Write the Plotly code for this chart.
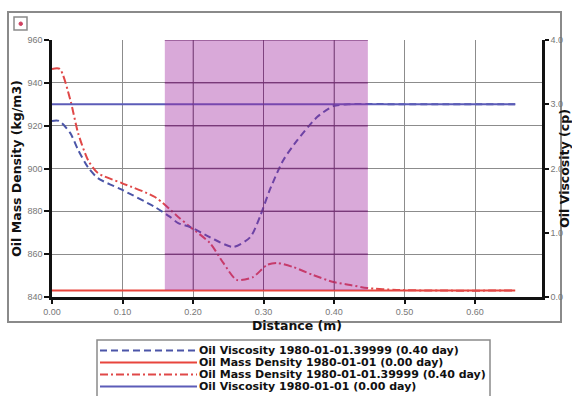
import plotly.graph_objects as go

# ---------------- data ----------------
x_visc_040 = [0.0, 0.01, 0.026, 0.037, 0.051, 0.065, 0.099, 0.146, 0.167, 0.179, 0.196, 0.224,
              0.257, 0.281, 0.295, 0.309, 0.328, 0.348, 0.376, 0.399, 0.423, 0.50, 0.657]
visc_040 = [2.74, 2.74, 2.55, 2.29, 2.02, 1.85, 1.67, 1.40, 1.25, 1.15, 1.09, 0.93,
            0.78, 0.93, 1.25, 1.67, 2.13, 2.44, 2.80, 2.97, 3.0, 3.0, 3.0]

x_dens_040 = [0.0, 0.011, 0.026, 0.037, 0.051, 0.065, 0.099, 0.146, 0.179, 0.196, 0.224, 0.243,
              0.262, 0.285, 0.305, 0.319, 0.342, 0.370, 0.399, 0.423, 0.447, 0.489, 0.55, 0.657]
dens_040 = [946.5, 946.5, 932.0, 916.6, 904.0, 897.9, 893.2, 886.7, 877.4, 872.7, 865.2, 855.9,
            848.0, 849.3, 855.0, 855.9, 854.0, 850.3, 847.0, 845.6, 844.2, 843.3, 843.0, 843.0]

x_flat = [0.0, 0.657]
dens_000 = [843.0, 843.0]
visc_000 = [3.0, 3.0]

x_ticks = [0.0, 0.1, 0.2, 0.3, 0.4, 0.5, 0.6]
x_tick_labels = ["0.00", "0.10", "0.20", "0.30", "0.40", "0.50", "0.60"]
left_ticks = [840, 860, 880, 900, 920, 940, 960]
right_ticks = [0.0, 1.0, 2.0, 3.0, 4.0]
right_tick_labels = ["0.0", "1.0", "2.0", "3.0", "4.0"]
shade_x = [0.160, 0.448]

names = ["Oil Viscosity 1980-01-01.39999 (0.40 day)",
         "Oil Mass Density 1980-01-01 (0.00 day)",
         "Oil Mass Density 1980-01-01.39999 (0.40 day)",
         "Oil Viscosity 1980-01-01 (0.00 day)"]

# ---------------- figure ----------------
W, H = 572, 396
L, R, T, B = 52, 542, 40, 297


def px(xp):
    return (xp - L) / (R - L)


def py(yp):
    return (B - yp) / (B - T)


series = [
    dict(x=x_visc_040, y=visc_040, yaxis="y2", color="#4b55a8", dash="7px,4px", name=names[0]),
    dict(x=x_flat, y=dens_000, yaxis="y", color="#e8453c", dash="solid", name=names[1]),
    dict(x=x_dens_040, y=dens_040, yaxis="y", color="#e04848", dash="8px,3px,2px,3px", name=names[2]),
    dict(x=x_flat, y=visc_000, yaxis="y2", color="#5c5cb8", dash="solid", name=names[3]),
]

fig = go.Figure()
for s in series:
    fig.add_trace(go.Scatter(
        x=s["x"], y=s["y"], yaxis=s["yaxis"], name=s["name"], mode="lines",
        line=dict(color=s["color"], width=2, dash=s["dash"], shape="spline", smoothing=0.7),
        showlegend=False, hoverinfo="skip"))

shapes = []
# shaded region: translucent overlay so curves show through
shade_bottom = py(290)
shapes.append(dict(type="rect", xref="x", yref="paper", x0=shade_x[0], x1=shade_x[1], y0=shade_bottom, y1=1,
                   fillcolor="rgba(160,40,160,0.4)", line=dict(width=0), layer="above"))
# grid lines seen through the shaded region
grid_in_shade = "rgba(110,40,110,0.55)"
for xv in x_ticks:
    if shade_x[0] < xv < shade_x[1]:
        shapes.append(dict(type="line", xref="x", yref="paper", x0=xv, x1=xv, y0=shade_bottom, y1=1,
                           line=dict(color=grid_in_shade, width=1), layer="above"))
for yv in left_ticks:
    if yv > 845:
        shapes.append(dict(type="line", xref="x", yref="y", x0=shade_x[0], x1=shade_x[1], y0=yv, y1=yv,
                           line=dict(color="rgba(110,40,110,0.7)", width=1.5), layer="above"))
# outer frame
shapes.append(dict(type="rect", xref="paper", yref="paper", x0=px(8), x1=px(561), y0=py(322), y1=py(12),
                   line=dict(color="#8a8a8a", width=2), fillcolor="rgba(0,0,0,0)", layer="below"))
# small icon
shapes.append(dict(type="rect", xref="paper", yref="paper", x0=px(14), x1=px(27), y0=py(30), y1=py(17),
                   line=dict(color="#8a8a8a", width=1.5), fillcolor="white"))
shapes.append(dict(type="circle", xref="paper", yref="paper", x0=px(19), x1=px(22.5), y0=py(25.5), y1=py(22),
                   line=dict(color="#d04060", width=1), fillcolor="#d04060"))
# legend box
shapes.append(dict(type="rect", xref="paper", yref="paper", x0=px(97), x1=px(490), y0=py(402), y1=py(340),
                   line=dict(color="#8a8a8a", width=1.5), fillcolor="white"))

annotations = []
leg_y0 = 350.5
for i, s in enumerate(series):
    yy = leg_y0 + 12 * i
    shapes.append(dict(type="line", xref="paper", yref="paper", x0=px(100), x1=px(197), y0=py(yy), y1=py(yy),
                       line=dict(color=s["color"], width=2, dash=s["dash"])))
    annotations.append(dict(xref="paper", yref="paper", x=px(197), y=py(yy), xanchor="left", yanchor="middle",
                            text="<b>" + s["name"] + "</b>", showarrow=False,
                            font=dict(family="DejaVu Sans", size=11, color="#111")))

tickfont = dict(family="Liberation Sans", size=9, color="#777")
titlefont = dict(family="DejaVu Sans", size=12.5, color="#111")

fig.update_layout(
    width=W, height=H,
    margin=dict(l=L, r=W - R, t=T, b=H - B),
    paper_bgcolor="white", plot_bgcolor="rgba(0,0,0,0)",
    showlegend=False,
    shapes=shapes, annotations=annotations,
    xaxis=dict(range=[0, 0.695], tickvals=x_ticks, ticktext=x_tick_labels,
               showgrid=True, gridcolor="#8c8c8c", gridwidth=1, automargin=False,
               showline=True, linecolor="#111", linewidth=2.5,
               ticks="outside", ticklen=4, tickcolor="#111", tickwidth=1.5,
               tickfont=tickfont, zeroline=False,
               title=dict(text="<b>Distance (m)</b>", font=titlefont, standoff=6)),
    yaxis=dict(range=[840, 960], tickvals=left_ticks, ticktext=[str(v) for v in left_ticks],
               showgrid=True, gridcolor="#8c8c8c", gridwidth=1, automargin=False,
               showline=True, linecolor="#111", linewidth=2.5,
               ticks="outside", ticklen=5, tickcolor="#111", tickwidth=1.5,
               tickfont=tickfont, zeroline=False,
               title=dict(text="<b>Oil Mass Density (kg/m3)</b>", font=titlefont, standoff=4)),
    yaxis2=dict(range=[0, 4], tickvals=right_ticks, ticktext=right_tick_labels,
                overlaying="y", side="right", showgrid=False, automargin=False,
                showline=True, linecolor="#111", linewidth=2.5,
                ticks="outside", ticklen=4, tickcolor="#111", tickwidth=1.5,
                tickfont=tickfont, zeroline=False,
                title=dict(text="<b>Oil Viscosity (cp)</b>", font=titlefont, standoff=12)),
)

fig.write_html("out.html")
